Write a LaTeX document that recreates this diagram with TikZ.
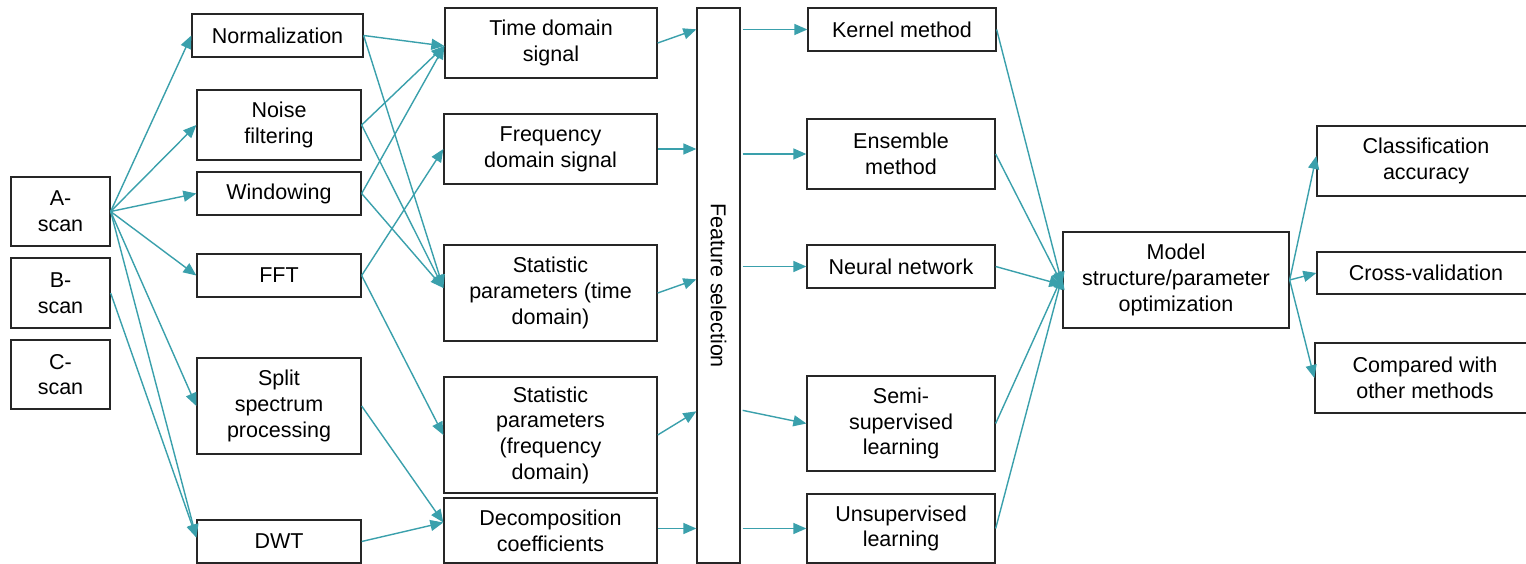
\documentclass[tikz,border=0pt]{standalone}
\usepackage{fontspec}
\setmainfont{Liberation Sans}
\usetikzlibrary{arrows.meta,calc}
\definecolor{teal1}{RGB}{58,160,172}
\tikzset{
  box/.style={draw=black!85, line width=1.3pt, inner sep=0pt, align=center,
    font=\fontsize{21.5}{25.7}\selectfont},
  conn/.style={draw=teal1, line width=1.4pt, -{Triangle[length=13pt,width=11pt]}}
}
\begin{document}
\begin{tikzpicture}[x=1pt,y=-1pt]
\clip (0,0) rectangle (1526,564);
\fill[white] (0,0) rectangle (1526,564);
% column 1
\node[box, minimum width=99pt, minimum height=69pt] (ascan) at (60.5,211.5) {A-\\scan};
\node[box, minimum width=99pt, minimum height=70pt] (bscan) at (60.5,293) {B-\\scan};
\node[box, minimum width=99pt, minimum height=69pt] (cscan) at (60.5,374.5) {C-\\scan};
% column 2
\node[box, minimum width=171pt, minimum height=43pt] (norm) at (277.5,35.5) {Normalization};
\node[box, minimum width=164pt, minimum height=70pt] (noise) at (279,125) {Noise\\filtering};
\node[box, minimum width=164pt, minimum height=43pt] (win) at (279,193.5) {Windowing};
\node[box, minimum width=164pt, minimum height=43pt] (fft) at (279,275.5) {FFT};
\node[box, minimum width=164pt, minimum height=96pt] (split) at (279,406) {Split\\spectrum\\processing};
\node[box, minimum width=164pt, minimum height=43pt] (dwt) at (279,541.5) {DWT};
% column 3
\node[box, minimum width=212pt, minimum height=70pt] (tds) at (551,43) {Time domain\\signal};
\node[box, minimum width=213pt, minimum height=70pt] (fds) at (550.5,149) {Frequency\\domain signal};
\node[box, minimum width=213pt, minimum height=96pt] (spt) at (550.5,293) {Statistic\\parameters (time\\domain)};
\node[box, minimum width=213pt, minimum height=116pt] (spf) at (550.5,435) {Statistic\\parameters\\(frequency\\domain)};
\node[box, minimum width=213pt, minimum height=65pt] (dec) at (550.5,530.5) {Decomposition\\coefficients};
% feature selection
\node[box, minimum width=43pt, minimum height=555pt] (fs) at (718.5,285.5) {};
\node[font=\fontsize{21.5}{25.7}\selectfont, rotate=-90] (fstext) at (fs.center) {Feature selection};
% column 4
\node[box, minimum width=188pt, minimum height=43pt] (kern) at (902,29.5) {Kernel method};
\node[box, minimum width=188pt, minimum height=70pt] (ens) at (901,154) {Ensemble\\method};
\node[box, minimum width=188pt, minimum height=43pt] (nn) at (901,266.5) {Neural network};
\node[box, minimum width=188pt, minimum height=95pt] (semi) at (901,423.5) {Semi-\\supervised\\learning};
\node[box, minimum width=188pt, minimum height=69pt] (unsup) at (901,528.5) {Unsupervised\\learning};
% model
\node[box, minimum width=226pt, minimum height=96pt] (model) at (1176,280) {Model\\structure/parameter\\optimization};
% outputs
\node[box, minimum width=218pt, minimum height=70pt] (cls) at (1426,161) {Classification\\accuracy};
\node[box, minimum width=218pt, minimum height=42pt] (cv) at (1426,273) {Cross-validation};
\node[box, minimum width=220pt, minimum height=70pt] (cmp) at (1425,378) {Compared with\\other methods};
% connectors from scans
\draw[conn] (ascan.east) -- (norm.west);
\draw[conn] (ascan.east) -- (noise.west);
\draw[conn] (ascan.east) -- (win.west);
\draw[conn] (ascan.east) -- (fft.west);
\draw[conn] (ascan.east) -- (split.west);
\draw[conn] (ascan.east) -- ([yshift=4pt]dwt.west);
\draw[conn] (bscan.east) -- ([yshift=4pt]dwt.west);
% preprocessing to features
\draw[conn] (norm.east) -- ([yshift=-3pt]tds.west);
\draw[conn] (noise.east) -- ([yshift=-3pt]tds.west);
\draw[conn] (win.east) -- ([yshift=-3pt]tds.west);
\draw[conn] (norm.east) -- ([yshift=5pt]spt.west);
\draw[conn] (noise.east) -- ([yshift=5pt]spt.west);
\draw[conn] (win.east) -- ([yshift=5pt]spt.west);
\draw[conn] (fft.east) -- (fds.west);
\draw[conn] (fft.east) -- (spf.west);
\draw[conn] (split.east) -- ([yshift=8pt]dec.west);
\draw[conn] (dwt.east) -- ([yshift=8pt]dec.west);
% features to feature selection
\draw[conn] (tds.east) -- ($(fs.north west)+(0,22)$);
\draw[conn] (fds.east) -- (fds.east -| fs.west);
\draw[conn] (spt.east) -- ($(fs.north west)+(0,272)$);
\draw[conn] (spf.east) -- ($(fs.north west)+(0,404)$);
\draw[conn] ([yshift=2pt]dec.east) -- ([yshift=2pt]dec.east -| fs.west);
% feature selection to methods
\draw[conn] ([xshift=2pt]kern.west -| fs.east) -- (kern.west);
\draw[conn] ([xshift=2pt]ens.west -| fs.east) -- (ens.west);
\draw[conn] ([xshift=2pt]nn.west -| fs.east) -- (nn.west);
\draw[conn] ($(fs.north east)+(2,403)$) -- (semi.west);
\draw[conn] ([xshift=2pt]unsup.west -| fs.east) -- (unsup.west);
% methods to model
\draw[conn] (kern.east) -- ([yshift=-5pt]model.west);
\draw[conn] (ens.east) -- ([yshift=-5pt]model.west);
\draw[conn] (nn.east) -- ([yshift=-5pt]model.west);
\draw[conn] (semi.east) -- ([yshift=4pt]model.west);
\draw[conn] (unsup.east) -- ([yshift=4pt]model.west);
% model to outputs
\draw[conn] (model.east) -- ([yshift=5pt]cls.west);
\draw[conn] (model.east) -- (cv.west);
\draw[conn] (model.east) -- (cmp.west);
\end{tikzpicture}
\end{document}
